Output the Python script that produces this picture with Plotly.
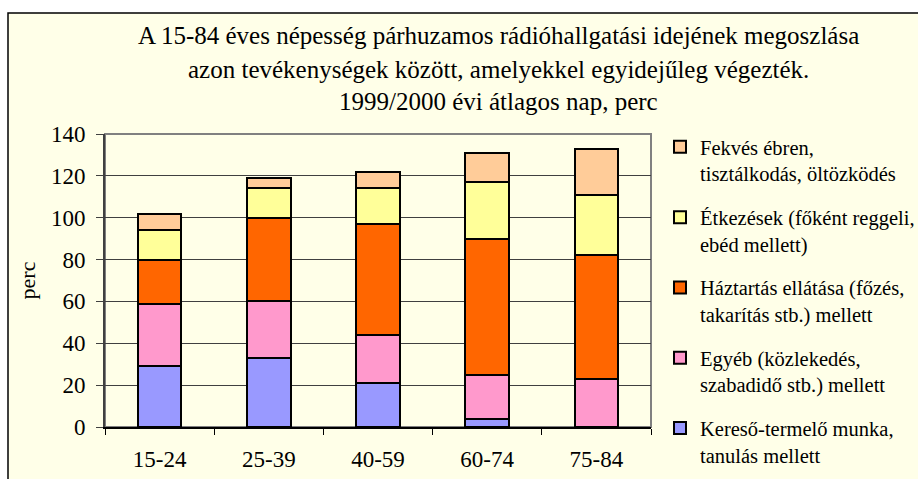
import plotly.graph_objects as go

# Age groups and minutes of parallel radio listening per activity
age_groups = ["15-24", "25-39", "40-59", "60-74", "75-84"]

kereso = [29, 33, 21, 4, 0]          # Kereső-termelő munka, tanulás mellett
egyeb = [30, 27, 23, 21, 23]         # Egyéb (közlekedés, szabadidő stb.) mellett
haztartas = [21, 40, 53, 65, 59]     # Háztartás ellátása (főzés, takarítás stb.) mellett
etkezes = [14, 14, 17, 27, 29]       # Étkezések (főként reggeli, ebéd mellett)
fekves = [8, 5, 8, 14, 22]           # Fekvés ébren, tisztálkodás, öltözködés

series = [
    ("Kereső-termelő munka,<br>tanulás mellett", kereso, "#9999FF"),
    ("Egyéb (közlekedés,<br>szabadidő stb.) mellett", egyeb, "#FF99CC"),
    ("Háztartás ellátása (főzés,<br>takarítás stb.) mellett", haztartas, "#FF6600"),
    ("Étkezések (főként reggeli,<br>ebéd mellett)", etkezes, "#FFFF99"),
    ("Fekvés ébren,<br>tisztálkodás, öltözködés", fekves, "#FFCC99"),
]

title_lines = [
    "A 15-84 éves népesség párhuzamos rádióhallgatási idejének megoszlása",
    "azon tevékenységek között, amelyekkel egyidejűleg végezték.",
    "1999/2000 évi átlagos nap, perc",
]

W, H = 918, 479
L, R, T, B = 105, 651, 134, 427   # plot area in pixels
FONT = "Liberation Serif, Times New Roman, serif"


def px(x):
    return (x - L) / (R - L)


def py(y):
    return 1 - (y - T) / (B - T)


fig = go.Figure()
n = len(series)
for i, (name, vals, color) in enumerate(series):
    fig.add_trace(go.Bar(
        x=age_groups, y=vals, name=name,
        marker=dict(color=color, line=dict(color="black", width=2)),
        legendgroup=f"g{i}", legendrank=n - i,
    ))

annotations = []
for text, yc in zip(title_lines, [35, 69, 102]):
    annotations.append(dict(
        text=text, x=px(498), y=py(yc), xref="paper", yref="paper",
        xanchor="center", yanchor="middle", showarrow=False,
        font=dict(family=FONT, size=25, color="black"),
    ))

shapes = [
    # chart frame
    dict(type="rect", xref="paper", yref="paper", layer="below",
         x0=px(8), x1=px(940), y0=py(13), y1=py(500),
         fillcolor="#FFFFE8", line=dict(color="black", width=1.5)),
    # plot-area border
    dict(type="rect", xref="paper", yref="paper", layer="below",
         x0=0, x1=1, y0=0, y1=1,
         line=dict(color="#808080", width=2)),
]

fig.update_layout(
    width=W, height=H,
    margin=dict(l=L, r=W - R, t=T, b=H - B, pad=0, autoexpand=False),
    paper_bgcolor="white", plot_bgcolor="rgba(0,0,0,0)",
    barmode="stack", bargap=0.6,
    font=dict(family=FONT, size=23, color="black"),
    annotations=annotations, shapes=shapes,
    legend=dict(
        x=px(660), y=py(127), xanchor="left", yanchor="top",
        traceorder="grouped", tracegroupgap=14, valign="top",
        maxheight=470,
        bgcolor="rgba(0,0,0,0)", font=dict(family=FONT, size=20.5),
    ),
    showlegend=True,
)
fig.update_xaxes(
    automargin=False,
    showline=True, linecolor="black", linewidth=2,
    ticks="outside", tickson="boundaries", ticklen=6, tickcolor="black",
    ticklabelstandoff=10, tickfont=dict(size=23),
)
fig.update_yaxes(
    automargin=False,
    range=[0, 140], dtick=20, showline=True, linecolor="#404040", linewidth=2,
    ticks="outside", ticklen=7, tickcolor="#404040",
    showgrid=True, gridcolor="#404040", gridwidth=1, zeroline=False,
    ticklabelstandoff=6, tickfont=dict(size=23),
    title=dict(text="perc", font=dict(size=22), standoff=9),
)

fig.write_html("out.html")
